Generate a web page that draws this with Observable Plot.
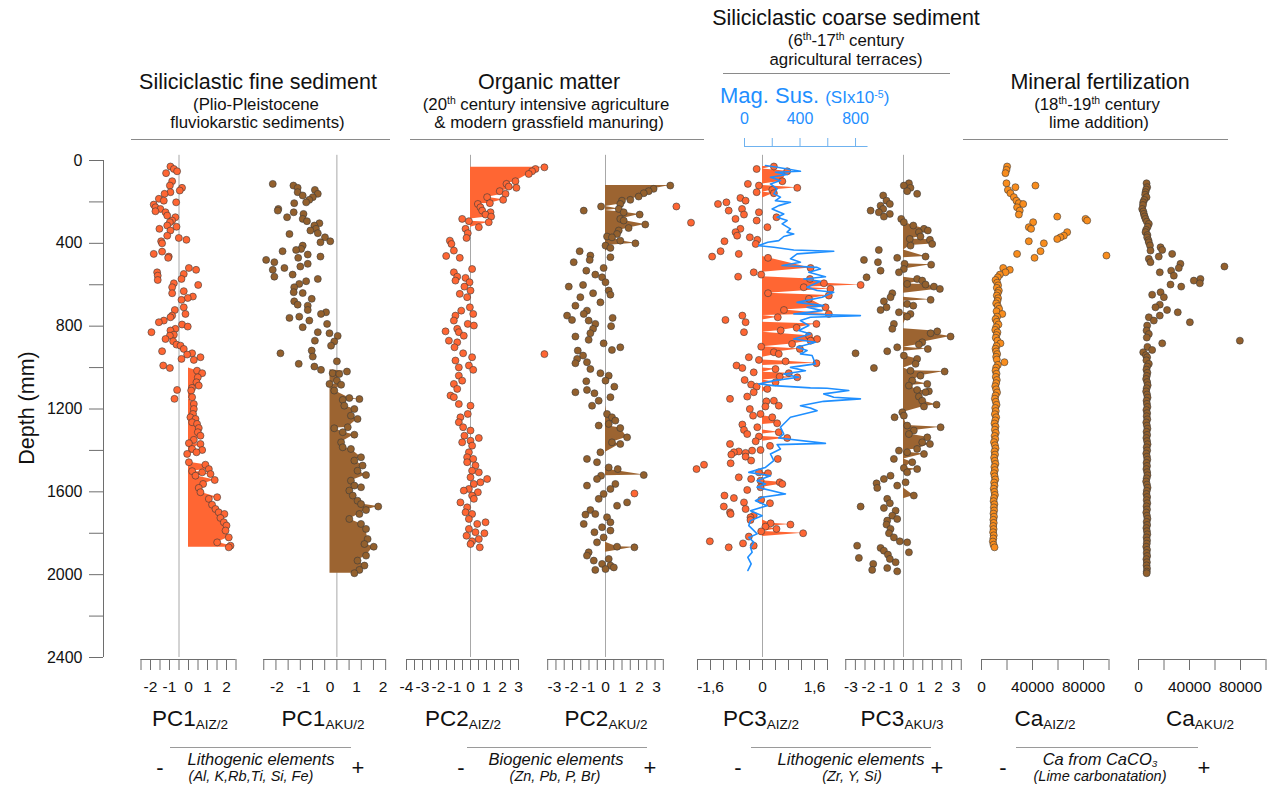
<!DOCTYPE html>
<html>
<head>
<meta charset="utf-8">
<script src="https://cdn.jsdelivr.net/npm/d3@7"></script>
<script src="https://cdn.jsdelivr.net/npm/@observablehq/plot@0.6"></script>
<style>
html,body{margin:0;padding:0;background:#fff;}
#chart{position:relative;width:1268px;height:786px;overflow:hidden;background:#fff;font-family:"Liberation Sans",Arial,Helvetica,sans-serif;color:#111;}
#chart svg{position:absolute;left:0;top:0;}
.t{position:absolute;white-space:nowrap;line-height:1;}
.t sup{font-size:0.62em;vertical-align:baseline;position:relative;top:-0.55em;}
.t sub{font-size:0.6em;vertical-align:baseline;position:relative;top:0.22em;}
.hl{position:absolute;height:0;border-top:1px solid #8a8a8a;}
</style>
</head>
<body>
<div id="chart"></div>
<script>
// ---------------- DATA (depth mm, value) ----------------
const pc1Aiz = [[29,-0.95],[41,-0.77],[52,-0.60],[61,-1.18],[100,-0.86],[121,-0.98],[132,-0.34],[145,-0.46],[161,-1.26],[153,-0.95],[185,-1.56],[194,-1.30],[202,-0.65],[213,-1.83],[226,-1.74],[234,-1.48],[245,-1.74],[250,-1.21],[266,-1.12],[274,-0.69],[290,-0.86],[298,-0.98],[314,-1.12],[330,-1.53],[338,-0.95],[320,-0.63],[363,-1.12],[374,-0.51],[383,-0.11],[390,-1.44],[400,-1.39],[451,-1.83],[440,-1.39],[464,-1.04],[470,-1.07],[540,-1.65],[556,-1.62],[577,-1.62],[519,0.02],[528,0.40],[548,-0.25],[572,-0.37],[593,-0.77],[601,0.51],[612,-0.86],[631,-0.25],[641,-0.86],[657,0.23],[664,-0.04],[673,-0.37],[709,-0.25],[722,-0.72],[741,-0.16],[749,-0.86],[757,-0.95],[773,-1.30],[781,-1.56],[792,-0.34],[802,-0.04],[829,-1.95],[821,-0.95],[813,-0.69],[846,-0.98],[862,-1.21],[841,-0.77],[873,-0.81],[889,-0.63],[894,-0.42],[910,-0.25],[937,-0.07],[931,0.19],[950,0.63],[963,0.28],[921,-1.39],[958,-0.37],[990,-1.33],[1002,-0.98],[1015,0.45],[1027,0.72],[1047,0.49],[1071,0.42],[1087,0.54],[1098,0.19],[1111,0.14],[1108,-0.60],[1151,-0.74],[1143,0.19],[1176,0.28],[1200,0.28],[1224,0.24],[1240,0.10],[1248,0.37],[1264,0.19],[1272,0.45],[1292,0.54],[1312,0.49],[1329,0.63],[1349,0.28],[1369,0.63],[1365,0.02],[1393,0.19],[1398,0.72],[1409,0.42],[1417,-0.07],[1457,0.02],[1469,0.89],[1490,1.07],[1506,0.72],[1514,1.16],[1500,0.19],[1522,0.37],[1543,1.38],[1562,0.77],[1581,0.54],[1602,0.63],[1634,1.07],[1626,1.51],[1662,1.24],[1683,1.42],[1699,1.59],[1707,1.89],[1726,1.68],[1747,1.86],[1763,2.00],[1787,1.95],[1820,2.12],[1844,1.51],[1860,2.21],[1868,2.12]];
const pc1Aku = [[113,-2.16],[121,-1.38],[132,-1.22],[142,-0.57],[161,-0.46],[153,-1.22],[169,-1.03],[177,-0.65],[206,-1.35],[202,-0.90],[190,-0.78],[234,-1.95],[242,-1.97],[250,-1.37],[274,-1.62],[258,-1.00],[282,-1.03],[293,-0.87],[303,-0.40],[314,-0.59],[330,-0.53],[338,-0.74],[351,-0.46],[371,-0.19],[390,0.01],[395,-0.36],[355,-1.53],[438,-1.79],[432,-1.28],[411,-1.03],[427,-1.09],[454,-0.84],[464,-0.36],[480,-2.41],[491,-2.10],[470,-1.20],[519,-1.72],[528,-2.16],[551,-1.41],[561,-2.10],[512,-1.12],[499,-0.84],[572,-0.46],[612,-1.35],[596,-1.16],[583,-0.90],[636,-1.37],[640,-1.03],[668,-0.69],[680,-1.35],[696,-1.22],[701,-0.84],[760,-1.53],[754,-1.16],[805,-1.03],[773,-0.78],[722,-0.84],[741,-0.34],[733,-0.15],[789,-0.11],[829,-0.46],[870,-0.57],[834,-0.02],[874,0.16],[847,0.29],[894,0.04],[931,-1.87],[982,-1.18],[918,-0.69],[947,-0.65],[995,-0.59],[1011,-0.34],[970,0.26],[1027,0.10],[1031,0.35],[1019,0.64],[1063,0.26],[1079,-0.02],[1083,0.42],[1111,0.16],[1156,0.48],[1147,0.73],[1152,1.11],[1184,0.54],[1200,0.92],[1232,0.79],[1248,1.04],[1293,0.16],[1288,0.67],[1312,0.48],[1324,0.92],[1361,0.42],[1385,0.48],[1393,0.79],[1433,1.17],[1449,0.92],[1473,1.23],[1498,1.04],[1519,1.36],[1546,0.79],[1570,0.92],[1578,1.17],[1594,0.73],[1618,0.86],[1643,1.04],[1659,1.17],[1671,1.82],[1688,1.36],[1707,1.11],[1731,0.73],[1755,1.17],[1779,1.36],[1828,1.42],[1865,1.65],[1852,1.30],[1908,1.36],[1932,1.04],[1956,1.30],[1977,1.11],[1993,0.92]];
const pc2Aiz = [[33,4.62],[41,4.06],[52,3.85],[65,3.64],[100,2.81],[113,2.25],[132,2.87],[126,2.39],[148,1.83],[161,2.19],[190,2.04],[177,1.04],[206,1.21],[210,0.46],[226,0.62],[242,0.73],[250,1.25],[261,0.94],[271,1.29],[282,-0.52],[293,-0.10],[298,1.14],[322,0.52],[330,-0.31],[351,-0.17],[374,-0.25],[387,-1.29],[403,-1.19],[435,-1.04],[461,-1.52],[470,-0.67],[524,0.10],[540,-1.04],[561,-0.83],[580,-0.94],[567,-0.31],[588,-0.06],[609,-0.38],[628,0.00],[644,-0.67],[660,-0.21],[709,-0.04],[725,-0.58],[741,0.17],[749,-0.94],[773,-1.04],[789,-0.17],[797,0.21],[813,-0.83],[829,-0.73],[825,-1.56],[846,-0.42],[870,-1.35],[878,-0.83],[902,-1.00],[931,-0.46],[950,0.10],[966,-0.94],[999,-0.73],[990,-0.10],[1011,0.17],[1039,-0.73],[1063,-0.52],[1079,-1.04],[1103,-0.83],[1135,-1.25],[1143,-1.04],[1176,-0.73],[1184,0.00],[1224,-0.17],[1240,-0.63],[1264,-0.73],[1288,-0.46],[1304,0.00],[1329,-0.38],[1340,0.52],[1353,0.00],[1361,-0.52],[1377,0.10],[1409,-0.10],[1433,-0.21],[1441,0.17],[1457,-0.21],[1473,0.31],[1498,0.10],[1506,0.52],[1530,0.00],[1538,1.04],[1554,0.62],[1562,0.21],[1586,-0.10],[1602,0.46],[1594,-0.42],[1618,0.10],[1651,-0.63],[1634,0.21],[1675,-0.21],[1699,-0.31],[1707,0.10],[1731,-0.10],[1747,0.94],[1755,0.42],[1779,-0.10],[1795,0.31],[1800,0.87],[1812,-0.25],[1828,0.52],[1839,0.10],[1852,0.00],[1868,0.58],[935,4.62]];
const pc2Aku = [[121,3.81],[137,2.83],[148,2.54],[158,2.25],[174,1.95],[190,1.46],[194,0.97],[210,0.87],[222,-0.26],[242,-1.28],[234,0.78],[250,1.07],[261,2.01],[282,0.87],[290,1.07],[309,2.34],[326,1.36],[338,0.78],[355,0.68],[371,0.38],[367,0.09],[387,0.87],[400,1.76],[411,0.00],[422,0.29],[438,-1.52],[459,-0.89],[491,-1.87],[480,-0.93],[467,0.29],[532,-1.13],[551,-0.60],[519,-0.11],[564,-0.20],[588,0.00],[609,-2.16],[601,-1.32],[641,-0.73],[628,0.19],[648,0.29],[660,-1.48],[685,-0.30],[701,-1.77],[725,-1.09],[741,-1.28],[749,-2.26],[770,-1.97],[773,-0.99],[789,-0.60],[813,-0.73],[760,0.42],[800,0.33],[850,-1.77],[834,-0.89],[866,-0.99],[883,-0.11],[915,0.38],[902,0.87],[918,-1.63],[942,-1.32],[958,-1.67],[979,-1.77],[974,-1.09],[1007,-0.89],[1027,-0.30],[1039,0.19],[1063,0.00],[1092,0.52],[1066,-1.13],[1119,-1.77],[1108,-1.09],[1124,-0.65],[1160,-0.40],[1184,-0.79],[1143,0.29],[1224,0.09],[1240,0.38],[1256,0.58],[1272,0.19],[1280,-0.40],[1292,0.87],[1337,1.27],[1361,0.38],[1369,0.87],[1409,-0.30],[1441,-1.09],[1457,-0.50],[1482,0.19],[1490,0.72],[1519,2.25],[1522,-0.26],[1538,-0.50],[1570,-1.09],[1562,0.58],[1586,0.29],[1610,-0.11],[1651,1.27],[1634,-0.40],[1688,-0.89],[1707,-0.60],[1667,0.68],[1723,0.09],[1747,0.29],[1710,-1.18],[1755,-1.28],[1771,-0.20],[1795,-0.65],[1787,0.29],[1820,-0.11],[1844,-0.50],[1868,1.70],[1865,0.68],[1892,-0.99],[1908,-1.09],[1932,-0.69],[1924,0.19],[1948,-0.20],[1956,0.29],[1973,0.00],[1977,-0.60],[1965,0.49]];
const pc3Aiz = [[29,0.35],[41,-0.18],[52,0.76],[100,0.61],[113,-0.45],[121,-0.11],[153,-0.18],[132,1.07],[142,0.30],[158,0.35],[181,-0.68],[194,-0.52],[210,-1.37],[202,-1.11],[250,-0.11],[242,-1.04],[234,-0.63],[261,-0.57],[282,-0.83],[290,-0.18],[322,0.15],[274,0.43],[330,-0.68],[346,-0.83],[363,-0.78],[371,-0.39],[383,-0.16],[403,-0.21],[390,-1.17],[438,-1.29],[464,-1.55],[451,-0.73],[470,0.17],[540,-0.27],[551,-0.04],[561,-0.75],[519,1.48],[572,1.46],[593,1.89],[620,2.09],[601,3.02],[612,1.27],[641,0.17],[652,2.04],[668,1.43],[709,1.94],[722,0.66],[741,2.04],[757,0.47],[770,-1.14],[781,-0.52],[749,-0.62],[829,-0.57],[821,0.56],[789,1.66],[808,1.05],[846,1.43],[870,1.48],[862,1.68],[886,0.91],[899,-0.04],[910,1.15],[950,-0.42],[963,-0.11],[934,0.50],[926,0.35],[970,0.71],[979,1.66],[990,-0.80],[1002,-0.62],[1023,-0.27],[1007,0.40],[1027,0.81],[1047,1.07],[1044,0.53],[1060,-0.55],[1082,-0.35],[1092,-0.18],[1103,0.15],[1071,0.40],[1119,-0.27],[1151,-1.00],[1140,-0.47],[1163,0.12],[1160,0.35],[1184,0.50],[1200,-0.39],[1188,0.09],[1224,-0.06],[1232,-0.29],[1240,0.30],[1269,0.45],[1275,-0.62],[1301,-0.57],[1288,-0.16],[1312,0.50],[1321,-0.47],[1333,-0.11],[1340,0.76],[1369,-1.00],[1356,-0.21],[1378,0.23],[1409,-0.88],[1420,-0.96],[1405,-0.73],[1412,-0.52],[1401,-0.32],[1398,-0.06],[1430,-0.52],[1449,-0.35],[1462,-0.98],[1441,0.47],[1469,-1.80],[1490,-2.03],[1530,-0.73],[1538,-0.35],[1506,-0.11],[1510,0.17],[1546,-0.06],[1562,0.61],[1554,0.53],[1591,-0.47],[1578,-0.06],[1618,-1.17],[1630,-0.88],[1639,-0.04],[1651,-0.57],[1655,0.23],[1671,-1.19],[1683,-0.52],[1699,-1.00],[1707,-0.98],[1723,-0.37],[1715,-0.27],[1736,-0.37],[1752,0.25],[1758,0.86],[1768,0.09],[1779,0.43],[1791,-0.04],[1800,1.25],[1816,-0.42],[1860,-0.27],[1849,-0.60],[1839,-1.62],[1868,-1.04],[222,-2.65],[300,-2.20],[1608,-3.94]];
const pc3Aku = [[121,0.02],[110,0.31],[148,0.21],[132,0.40],[161,0.78],[169,-1.16],[194,-0.97],[210,-0.78],[218,-1.31],[234,-1.16],[250,-1.41],[242,-1.88],[258,-0.78],[271,-1.12],[282,-0.13],[298,0.02],[314,0.56],[330,1.17],[338,1.39],[346,0.88],[367,0.97],[383,1.51],[379,0.36],[411,0.40],[403,1.64],[432,-1.41],[470,-0.36],[464,1.26],[480,-2.26],[491,-1.46],[499,0.06],[503,1.58],[524,0.02],[532,-1.31],[540,-0.26],[564,-2.11],[572,0.78],[580,1.07],[599,1.26],[609,1.74],[620,2.08],[641,-0.64],[596,0.21],[673,1.55],[680,-1.12],[660,-0.74],[709,-0.97],[722,-1.31],[693,0.21],[701,0.56],[733,-0.26],[741,0.40],[754,0.21],[789,-0.55],[813,-0.64],[834,1.55],[825,1.93],[850,2.69],[878,1.07],[889,0.88],[910,1.39],[902,-0.36],[921,-0.93],[931,-2.74],[942,0.02],[958,0.78],[982,0.69],[1015,0.40],[1019,2.35],[1002,-1.69],[1039,0.97],[1063,0.50],[1079,1.36],[1087,0.31],[1108,0.78],[1119,1.26],[1114,1.45],[1140,0.88],[1188,1.17],[1160,1.07],[1179,1.89],[1240,-0.51],[1216,-0.07],[1232,0.02],[1280,0.21],[1288,2.12],[1304,0.59],[1321,0.31],[1337,1.36],[1361,1.07],[1369,1.51],[1393,0.78],[1409,0.21],[1401,-0.26],[1441,-0.55],[1417,1.17],[1457,0.50],[1490,0.78],[1506,0.21],[1485,0.02],[1522,-0.74],[1559,-1.54],[1538,-1.12],[1581,-1.50],[1570,-0.36],[1554,0.12],[1618,0.59],[1634,-0.93],[1655,-0.78],[1678,-1.12],[1671,-2.45],[1691,-0.45],[1715,-0.64],[1739,-0.93],[1731,-0.36],[1758,-0.97],[1779,-0.74],[1800,-0.83],[1820,-0.55],[1839,-0.21],[1844,0.21],[1892,0.31],[1860,-2.65],[1919,-2.55],[1871,-1.31],[1884,-1.12],[1903,-0.89],[1924,-0.78],[1948,-1.73],[1968,-0.93],[1977,-1.79],[1940,-0.45],[1984,-0.36]];
const magSus = [[24,151],[33,235],[52,403],[57,223],[68,307],[81,187],[97,259],[113,187],[137,235],[161,211],[177,259],[194,223],[202,331],[218,247],[234,199],[258,283],[274,235],[290,307],[306,271],[330,331],[346,307],[355,355],[367,283],[387,247],[395,168],[411,103],[419,211],[432,355],[438,643],[451,379],[475,331],[491,403],[507,271],[516,523],[524,547],[540,463],[561,583],[572,427],[583,547],[612,451],[628,523],[636,643],[660,559],[685,379],[701,571],[709,451],[725,559],[741,355],[749,835],[757,475],[773,403],[797,463],[821,391],[838,475],[862,355],[878,511],[902,379],[918,451],[934,403],[942,487],[982,511],[999,331],[1015,439],[1031,283],[1047,391],[1063,211],[1079,103],[1087,211],[1098,475],[1100,595],[1111,751],[1127,571],[1143,643],[1151,835],[1163,571],[1184,403],[1195,475],[1208,523],[1240,331],[1264,295],[1288,259],[1321,283],[1340,247],[1366,583],[1372,235],[1393,259],[1417,187],[1449,211],[1482,151],[1506,31],[1522,187],[1546,91],[1562,151],[1578,91],[1610,295],[1626,127],[1643,79],[1667,163],[1691,43],[1715,127],[1739,43],[1763,31],[1779,55],[1803,91],[1820,31],[1844,67],[1868,43],[1892,55],[1916,24],[1948,48],[1980,24]];
const caAiz = [[29,20100],[45,19600],[61,18800],[110,19600],[129,26600],[121,42300],[142,20700],[158,22700],[177,25400],[194,27400],[206,29300],[210,32700],[226,27900],[242,30000],[261,29300],[271,59400],[282,81600],[290,82900],[298,40500],[322,37100],[330,38900],[346,67200],[363,64600],[371,61900],[379,59400],[390,37100],[400,48900],[438,46300],[459,98000],[451,27900],[470,41600],[519,17000],[528,22200],[540,18800],[551,14400],[564,12800],[577,11000],[590,12300],[603,13000],[615,12000],[628,13600],[640,12800],[652,12000],[665,13000],[678,12500],[690,11500],[703,12800],[716,13800],[728,11800],[741,16300],[754,12300],[766,11000],[779,12000],[792,13300],[805,11500],[818,10800],[830,12500],[843,11800],[856,11200],[870,12500],[883,14900],[896,11800],[909,11000],[922,11500],[935,12300],[948,11500],[961,12000],[974,18000],[987,12800],[1000,11500],[1015,11000],[1030,11800],[1045,11200],[1060,12000],[1075,11500],[1090,10800],[1105,11500],[1120,12200],[1135,11000],[1150,10500],[1165,11200],[1180,11800],[1195,10800],[1210,11200],[1225,10500],[1240,11500],[1255,10800],[1270,10200],[1285,11000],[1300,10500],[1315,11200],[1330,10300],[1345,10800],[1360,9800],[1375,10500],[1390,11000],[1405,10200],[1420,10600],[1435,9900],[1450,10400],[1465,10900],[1480,10100],[1495,10500],[1510,9800],[1525,10300],[1540,10800],[1555,9900],[1570,10200],[1585,9600],[1600,10100],[1615,10500],[1630,9800],[1645,9500],[1660,10100],[1675,9700],[1690,9900],[1705,9400],[1720,9800],[1735,9300],[1750,9600],[1765,9200],[1780,9500],[1795,9100],[1810,9600],[1825,9300],[1840,8900],[1855,9400],[1868,10200]];
const caAku = [[110,6300],[129,6800],[140,6000],[153,5500],[165,5200],[177,6300],[190,4500],[202,3700],[215,3500],[234,2900],[246,3800],[258,4200],[270,4800],[282,5500],[295,6500],[306,8100],[320,7200],[335,6000],[346,5500],[360,7000],[371,6800],[385,7800],[395,8100],[410,9000],[419,17300],[432,18600],[435,9400],[451,26400],[464,15900],[475,8100],[491,9400],[499,32900],[512,67400],[519,31600],[532,25600],[540,16700],[556,27700],[572,48600],[580,43400],[593,48100],[599,25100],[609,33500],[636,17300],[648,10700],[660,19900],[696,16700],[709,13300],[722,22400],[733,30800],[749,16700],[757,8100],[773,12000],[781,40300],[797,6800],[821,6300],[838,8100],[855,6500],[870,79500],[883,18600],[900,7000],[915,10700],[926,3700],[940,5800],[950,6800],[965,6200],[982,8100],[995,6800],[1010,6200],[1025,7000],[1040,6500],[1055,6000],[1070,6800],[1085,7200],[1100,6400],[1115,6000],[1130,6700],[1145,7100],[1160,6300],[1175,6600],[1190,7000],[1205,6200],[1220,6800],[1235,6400],[1250,6900],[1265,6100],[1280,6600],[1295,7000],[1310,6300],[1325,6800],[1340,6200],[1355,6700],[1370,7100],[1385,6400],[1400,6800],[1415,6100],[1430,6600],[1445,6900],[1460,6300],[1475,6700],[1490,6200],[1505,6800],[1520,7000],[1535,6400],[1550,6000],[1565,6600],[1580,7100],[1595,6500],[1610,6200],[1625,6800],[1640,6400],[1655,6900],[1670,6300],[1685,6700],[1700,6100],[1715,6600],[1730,7000],[1745,6400],[1760,6800],[1775,6200],[1790,6600],[1805,6900],[1820,6300],[1835,6700],[1850,6500],[1865,6100],[1880,6700],[1895,6400],[1910,6800],[1925,6200],[1940,6600],[1955,6300],[1970,6700],[1985,6500],[1993,6400]];

// shaded (filled-to-zero) depth zones
const pc1AizZones = [[1005, 1870]];
const pc1AkuZones = [[1015, 1995]];
const pc2AizZones = [[25, 300]];
const pc2AkuZones = [[105, 425], [1205, 1400], [1510, 1530], [1860, 1870]];
const pc3AizZones = [[25, 165], [465, 1110], [1230, 1345], [1500, 1565], [1745, 1805]];
const pc3AkuZones = [[290, 1500], [1610, 1625]];

// tick labels
const depthLabelTicks = [0, 400, 800, 1200, 1600, 2000, 2400];
const depthMinorTicks = [0, 200, 400, 600, 800, 1000, 1200, 1400, 1600, 1800, 2000, 2200, 2400];
const pc1AizTickLabels = [-2, -1, 0, 1, 2];
const pc1AkuTickLabels = [-2, -1, 0, 1, 2];
const pc2AizTickLabels = [-4, -3, -2, -1, 0, 1, 2, 3];
const pc2AkuTickLabels = [-3, -2, -1, 0, 1, 2, 3];
const pc3AizTickLabels = [-1.6, 0, 1.6];
const pc3AizTickText = ["-1,6", "0", "1,6"];
const pc3AkuTickLabels = [-3, -2, -1, 0, 1, 2, 3];
const caTickLabels = [0, 40000, 80000];
const magSusTickLabels = [0, 400, 800];
const magSusMinorTicks = [0, 200, 400, 600, 800];

// ---------------- LAYOUT / STYLE ----------------
const W = 1268, H = 786;
const Y_TOP = 160, Y_BOT = 657, AXIS_Y = 659;
const FONT = '"Liberation Sans", Arial, Helvetica, sans-serif';
const ORANGE = "#ff6633", BROWN = "#93602d", BROWN_FILL = "#9c6431", CA_ORANGE = "#f98d1d";
const BLUE = "#1f8fff", BLUE_AXIS = "#6fb2ef", DOT_STROKE = "#3a3a3a", AXIS_COLOR = "#6e6e6e", GREY_LINE = "#a8a8a8";

const chart = document.getElementById("chart");
const baseStyle = (extra = {}) => Object.assign({background: "transparent", overflow: "visible", fontFamily: FONT, fontSize: "15.5px", color: "#111"}, extra);

// Y axis
chart.appendChild(Plot.plot({
  width: W, height: H,
  marginLeft: 103, marginRight: W - 110, marginTop: Y_TOP, marginBottom: H - Y_BOT,
  x: {domain: [0, 1], axis: null},
  y: {domain: [0, 2400], reverse: true, label: null},
  style: baseStyle({fontSize: "16px"}),
  marks: [
    Plot.ruleX([0], {y1: 0, y2: 2400, stroke: AXIS_COLOR}),
    Plot.axisY({ticks: depthMinorTicks, anchor: "left", tickSize: 14, tickFormat: () => "", stroke: AXIS_COLOR, label: null}),
    Plot.axisY({ticks: depthLabelTicks, anchor: "left", tickSize: 0, tickPadding: 21, tickFormat: d => String(d), label: null})
  ]
}));

const panels = [
  {data: pc1Aiz, zero: 188, ppu: 19, domain: [-2.5, 2.5], nTicks: 11, labels: pc1AizTickLabels, grey: -0.5, dot: ORANGE, fill: ORANGE, zones: pc1AizZones},
  {data: pc1Aku, zero: 329.5, ppu: 26.5, domain: [-2.5, 2.1], nTicks: 11, labels: pc1AkuTickLabels, grey: 0.26, dot: BROWN, fill: BROWN_FILL, zones: pc1AkuZones},
  {data: pc2Aiz, zero: 470, ppu: 16, domain: [-4, 3], nTicks: 15, labels: pc2AizTickLabels, grey: 0, dot: ORANGE, fill: ORANGE, zones: pc2AizZones},
  {data: pc2Aku, zero: 605, ppu: 17, domain: [-3.4, 3.4], nTicks: 15, labels: pc2AkuTickLabels, grey: 0, dot: BROWN, fill: BROWN_FILL, zones: pc2AkuZones},
  {data: pc3Aiz, zero: 762, ppu: 32.5, domain: [-2, 2], nTicks: 11, labels: pc3AizTickLabels, text: pc3AizTickText, grey: 0, dot: ORANGE, fill: ORANGE, zones: pc3AizZones},
  {data: pc3Aku, zero: 903, ppu: 17.5, domain: [-3.3, 3.3], nTicks: 13, labels: pc3AkuTickLabels, grey: 0, dot: BROWN, fill: BROWN_FILL, zones: pc3AkuZones},
  {data: caAiz, zero: 981, ppu: 0.001275, domain: [0, 100000], nTicks: 6, labels: caTickLabels, grey: null, dot: CA_ORANGE, zones: null},
  {data: caAku, zero: 1138, ppu: 0.001275, domain: [0, 100000], nTicks: 6, labels: caTickLabels, grey: null, dot: BROWN, zones: null}
];

const magPlot = () => Plot.plot({
  width: W, height: H,
  marginLeft: 744, marginRight: W - (744 + 890 * 0.1388), marginTop: 146, insetTop: Y_TOP - 146, marginBottom: H - Y_BOT,
  x: {domain: [0, 890], label: null},
  y: {domain: [0, 2400], reverse: true, axis: null, label: null},
  style: baseStyle({fontSize: "16px", color: BLUE}),
  marks: [
    Plot.ruleY([0], {x1: 0, x2: 890, dy: 146 - Y_TOP, stroke: BLUE_AXIS}),
    Plot.axisX({ticks: magSusMinorTicks, anchor: "top", tickSize: 9, tickFormat: () => "", stroke: BLUE_AXIS, label: null}),
    Plot.axisX({ticks: magSusTickLabels, anchor: "top", tickSize: 0, tickPadding: 23, tickFormat: d => String(d), label: null}),
    Plot.line(magSus.map(([d, m]) => ({d, m})).sort((a, b) => a.d - b.d), {x: "m", y: "d", stroke: BLUE, strokeWidth: 1.6})
  ]
});

panels.forEach((p, idx) => {
  const left = p.zero + p.domain[0] * p.ppu;
  const right = p.zero + p.domain[1] * p.ppu;
  const rows = p.data.map(([d, v]) => ({d, v})).sort((a, b) => a.d - b.d);
  const minor = d3.range(p.nTicks).map(i => p.domain[0] + i * (p.domain[1] - p.domain[0]) / (p.nTicks - 1));
  const fmt = d => {
    const i = p.labels.findIndex(l => Math.abs(l - d) < 1e-9);
    return i < 0 ? "" : (p.text ? p.text[i] : String(p.labels[i]));
  };
  const inZone = d => p.zones && p.zones.some(([a, b]) => d >= a && d <= b);
  const marks = [];
  if (p.grey != null) marks.push(Plot.ruleX([p.grey], {y1: -25, y2: 2400, stroke: GREY_LINE}));
  marks.push(Plot.ruleY([2400], {x1: p.domain[0], x2: p.domain[1], dy: AXIS_Y - Y_BOT, stroke: AXIS_COLOR}));
  marks.push(Plot.axisX({ticks: minor, anchor: "bottom", tickSize: 11, tickFormat: () => "", stroke: AXIS_COLOR, label: null}));
  marks.push(Plot.axisX({ticks: p.labels, anchor: "bottom", tickSize: 0, tickPadding: 21, tickFormat: fmt, label: null}));
  if (p.zones) marks.push(Plot.areaX(rows, {y: "d", x1: () => 0, x2: r => (inZone(r.d) && r.v > 0 ? r.v : 0), fill: p.fill}));
  marks.push(Plot.dot(rows, {x: "v", y: "d", r: 3.5, fill: p.dot, stroke: DOT_STROKE, strokeWidth: 0.6}));
  chart.appendChild(Plot.plot({
    width: W, height: H,
    marginLeft: left, marginRight: W - right, marginTop: Y_TOP,
    marginBottom: H - AXIS_Y, insetBottom: AXIS_Y - Y_BOT,
    x: {domain: p.domain, label: null},
    y: {domain: [0, 2400], reverse: true, axis: null, label: null},
    style: baseStyle(),
    marks
  }));
  if (idx === 4) chart.appendChild(magPlot());
});

// ---------------- TEXT ----------------
function addText(html, x, baseline, size, opts = {}) {
  const el = document.createElement("div");
  el.className = "t";
  el.innerHTML = html;
  el.style.fontSize = size + "px";
  el.style.left = x + "px";
  el.style.top = (baseline - 0.8465 * size) + "px";
  el.style.transform = opts.align === "left" ? "none" : "translateX(-50%)";
  if (opts.italic) el.style.fontStyle = "italic";
  if (opts.color) el.style.color = opts.color;
  chart.appendChild(el);
}
function addLine(x1, x2, y, color) {
  const el = document.createElement("div");
  el.className = "hl";
  el.style.left = x1 + "px";
  el.style.width = (x2 - x1) + "px";
  el.style.top = (y - 0.5) + "px";
  if (color) el.style.borderTopColor = color;
  chart.appendChild(el);
}

const headerTexts = [
  ["Siliciclastic fine sediment", 258, 90, 21.5],
  ["(Plio-Pleistocene", 256, 111, 16.8],
  ["fluviokarstic sediments)", 257.5, 129.5, 16.8],
  ["Organic matter", 549, 90, 21.5],
  ["(20<sup>th</sup> century intensive agriculture", 546, 111, 16.8],
  ["&amp; modern grassfield manuring)", 549, 129.5, 16.8],
  ["Siliciclastic coarse sediment", 846, 26, 21.5],
  ["(6<sup>th</sup>-17<sup>th</sup> century", 846, 47, 16.8],
  ["agricultural terraces)", 846, 66, 16.8],
  ["Mineral fertilization", 1100, 90, 21.5],
  ["(18<sup>th</sup>-19<sup>th</sup> century", 1097, 111, 16.8],
  ["lime addition)", 1099, 129.5, 16.8]
];
headerTexts.forEach(([h, x, y, s]) => addText(h, x, y, s));
addLine(131, 390, 139);
addLine(410, 704, 139);
addLine(723, 950, 73);
addLine(963, 1228, 139);

addText('Mag. Sus. <span style="font-size:17px">(SIx10<sup>-5</sup>)</span>', 720, 104, 22, {align: "left", color: BLUE});

// depth axis title
const dl = document.createElement("div");
dl.className = "t";
dl.textContent = "Depth (mm)";
dl.style.fontSize = "21.5px";
dl.style.left = "28px";
dl.style.top = "408px";
dl.style.transform = "translate(-50%,-50%) rotate(-90deg)";
chart.appendChild(dl);

const panelNames = [
  ["PC1<sub>AIZ/2</sub>", 190], ["PC1<sub>AKU/2</sub>", 323],
  ["PC2<sub>AIZ/2</sub>", 463], ["PC2<sub>AKU/2</sub>", 606],
  ["PC3<sub>AIZ/2</sub>", 761], ["PC3<sub>AKU/3</sub>", 902],
  ["Ca<sub>AIZ/2</sub>", 1045], ["Ca<sub>AKU/2</sub>", 1200]
];
panelNames.forEach(([h, x]) => addText(h, x, 727, 22.5));

const groups = [
  {x1: 170, x2: 351, title: "Lithogenic elements", tx: 261, sub: "(Al, K,Rb,Ti, Si, Fe)", sx: 251, minus: 160, plus: 358},
  {x1: 467, x2: 647, title: "Biogenic elements", tx: 556, sub: "(Zn, Pb, P, Br)", sx: 555, minus: 461, plus: 650},
  {x1: 751, x2: 931, title: "Lithogenic elements", tx: 851, sub: "(Zr, Y, Si)", sx: 852, minus: 738, plus: 937},
  {x1: 1016, x2: 1198, title: "Ca from CaCO<sub>3</sub>", tx: 1100, sub: "(Lime carbonatation)", sx: 1100, minus: 1003, plus: 1204}
];
groups.forEach(g => {
  addLine(g.x1, g.x2, 747, "#9a9a9a");
  addText(g.title, g.tx, 765, 16.5, {italic: true});
  addText(g.sub, g.sx, 781, 14.5, {italic: true});
  addText("-", g.minus, 776, 22);
  addText("+", g.plus, 776, 22);
});
</script>
</body>
</html>
